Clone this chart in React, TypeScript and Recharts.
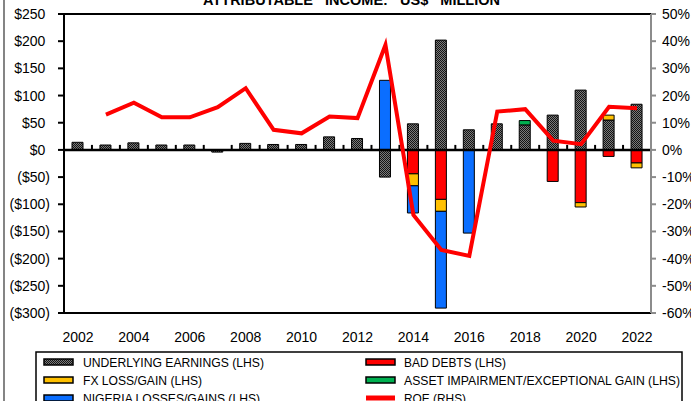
import React from 'react';
import { ComposedChart, Bar, Line, XAxis, YAxis, ReferenceLine } from 'recharts';

const years = ['2002','2003','2004','2005','2006','2007','2008','2009','2010','2011','2012','2013','2014','2015','2016','2017','2018','2019','2020','2021','2022'];
const xTickYears = ['2002','2004','2006','2008','2010','2012','2014','2016','2018','2020','2022'];
const underlying = [14, 9, 13, 9, 9, -4, 12, 10, 10, 24, 21, -50, 48, 202, 37, 48, 46, 64, 110, 55, 84];
const badDebts = [null, null, null, null, null, null, null, null, null, null, null, null, -44, -91, null, null, null, -58, -97, -12, -24];
const fxLossGain = [null, null, null, null, null, null, null, null, null, null, null, null, -22, -22, null, null, null, null, -8, 9, -9];
const assetImpairment = [null, null, null, null, null, null, null, null, null, null, null, null, null, null, null, null, 8, null, null, null, null];
const nigeria = [null, null, null, null, null, null, null, null, null, null, null, 128, -50, -178, -153, null, null, null, null, null, null];
const roe = [null, 13, 17.4, 12, 12, 15.7, 22.7, 7.4, 6.1, 12.3, 11.7, 38.6, -23.9, -36.8, -39, 14.1, 15, 3.4, 2.1, 15.9, 15.3];
const leftTicks = [250, 200, 150, 100, 50, 0, -50, -100, -150, -200, -250, -300];
const rightTicks = [50, 40, 30, 20, 10, 0, -10, -20, -30, -40, -50, -60];

const data = years.map((y, i) => ({
  year: y,
  underlying: underlying[i],
  badDebts: badDebts[i],
  fx: fxLossGain[i],
  asset: assetImpairment[i],
  nigeria: nigeria[i],
  roe: roe[i],
}));

const FONT = 'Liberation Sans, Arial, sans-serif';

const LeftTick = (props: any) => {
  const { x, y, payload } = props;
  const v = payload.value;
  const label = v < 0 ? `($${-v})` : `$${v}`;
  return (
    <text x={v < 0 ? x : x - 4.7} y={y} dy="0.355em" textAnchor="end" fontSize={14} fontFamily={FONT} fill="#000">
      {label}
    </text>
  );
};

const ZeroLine = (props: any) => {
  const { x1, x2, y1 } = props;
  const n = years.length;
  const step = (x2 - x1) / n;
  const ticks = [];
  for (let i = 1; i < n; i++) {
    const tx = x1 + i * step;
    ticks.push(<line key={i} x1={tx} x2={tx} y1={y1} y2={y1 - 5} stroke="#000" strokeWidth={2} />);
  }
  return (
    <g>
      <line x1={x1} x2={x2} y1={y1} y2={y1} stroke="#000" strokeWidth={2.5} />
      {ticks}
    </g>
  );
};

const legendItems = [
  { label: 'UNDERLYING EARNINGS (LHS)', fill: 'url(#hatchLeg)', col: 0, row: 0, w: 181 },
  { label: 'BAD DEBTS (LHS)', fill: '#FF0000', col: 1, row: 0, w: 102 },
  { label: 'FX LOSS/GAIN (LHS)', fill: '#FFC000', col: 0, row: 1, w: 119 },
  { label: 'ASSET IMPAIRMENT/EXCEPTIONAL GAIN (LHS)', fill: '#00B050', col: 1, row: 1, w: 276 },
  { label: 'NIGERIA LOSSES/GAINS (LHS)', fill: '#0A6EFF', col: 0, row: 2, w: 177 },
  { label: 'ROE (RHS)', fill: 'line', col: 1, row: 2, w: 62 },
];

export default function App() {
  return (
    <div style={{ position: 'absolute', left: 0, top: 0, width: 691, height: 401, background: '#fff', overflow: 'hidden' }}>
      <ComposedChart
        width={691}
        height={401}
        data={data}
        stackOffset="sign"
        barCategoryGap={0}
        margin={{ top: 14, right: 0, bottom: 48, left: 0 }}
      >
        <defs>
          <pattern id="hatch" width="2" height="2" patternUnits="userSpaceOnUse">
            <rect width="2" height="2" fill="#7a7a7a" />
            <rect width="1" height="1" fill="#141414" />
            <rect x="1" y="1" width="1" height="1" fill="#141414" />
          </pattern>
        </defs>
        <XAxis
          dataKey="year"
          ticks={xTickYears}
          interval={0}
          axisLine={false}
          tickLine={false}
          tickSize={0}
          tickMargin={19}
          height={40}
          tick={{ fontSize: 14, fill: '#000', fontFamily: FONT }}
        />
        <YAxis
          yAxisId="left"
          orientation="left"
          width={64}
          domain={[-300, 250]}
          ticks={leftTicks}
          interval={0}
          allowDataOverflow
          axisLine={{ stroke: '#000', strokeWidth: 2 }}
          tickLine={{ stroke: '#000', strokeWidth: 2 }}
          tickSize={6}
          tickMargin={8}
          tick={<LeftTick />}
        />
        <YAxis
          yAxisId="right"
          orientation="right"
          width={40}
          domain={[-60, 50]}
          ticks={rightTicks}
          interval={0}
          allowDataOverflow
          axisLine={{ stroke: '#8c8c8c', strokeWidth: 2 }}
          tickLine={{ stroke: '#8c8c8c', strokeWidth: 2 }}
          tickSize={5}
          tickMargin={6}
          tickFormatter={(v: number) => `${v}%`}
          tick={{ fontSize: 14, fill: '#000', fontFamily: FONT, textAnchor: 'start' }}
        />
        <ReferenceLine yAxisId="left" y={250} stroke="#000" strokeWidth={2} />
        <ReferenceLine yAxisId="left" y={-300} stroke="#000" strokeWidth={2} />
        <Bar yAxisId="left" dataKey="underlying" stackId="a" barSize={11} fill="url(#hatch)" stroke="#000" strokeWidth={1} isAnimationActive={false} />
        <Bar yAxisId="left" dataKey="badDebts" stackId="a" barSize={11} fill="#FF0000" stroke="#000" strokeWidth={1} isAnimationActive={false} />
        <Bar yAxisId="left" dataKey="fx" stackId="a" barSize={11} fill="#FFC000" stroke="#000" strokeWidth={1} isAnimationActive={false} />
        <Bar yAxisId="left" dataKey="asset" stackId="a" barSize={11} fill="#00B050" stroke="#000" strokeWidth={1} isAnimationActive={false} />
        <Bar yAxisId="left" dataKey="nigeria" stackId="a" barSize={11} fill="#0A6EFF" stroke="#000" strokeWidth={1} isAnimationActive={false} />
        <ReferenceLine yAxisId="left" y={0} shape={<ZeroLine />} />
        <Line yAxisId="right" type="linear" dataKey="roe" stroke="#FF0000" strokeWidth={4} dot={false} activeDot={false} connectNulls={false} isAnimationActive={false} />
      </ComposedChart>
      <svg width={691} height={401} style={{ position: 'absolute', left: 0, top: 0, pointerEvents: 'none' }}>
        <defs>
          <pattern id="hatchLeg" width="2" height="2" patternUnits="userSpaceOnUse">
            <rect width="2" height="2" fill="#7a7a7a" />
            <rect width="1" height="1" fill="#141414" />
            <rect x="1" y="1" width="1" height="1" fill="#141414" />
          </pattern>
        </defs>
        <text x={203} y={5} fontSize={14} fontWeight="bold" fontFamily={FONT} fill="#000" textLength={297} lengthAdjust="spacingAndGlyphs" style={{ whiteSpace: 'pre' }}>
          {'ATTRIBUTABLE   INCOME:   US$   MILLION'}
        </text>
        <line x1={4} x2={4} y1={0} y2={401} stroke="#333" strokeWidth={1.2} />
        <rect x={36} y={352} width={646} height={70} fill="none" stroke="#000" strokeWidth={1.5} />
        {legendItems.map((it) => {
          const sx = it.col === 0 ? 44 : 366;
          const tx = it.col === 0 ? 83 : 404;
          const cy = 362 + it.row * 18;
          return (
            <g key={it.label}>
              {it.fill === 'line' ? (
                <line x1={sx} x2={sx + 29} y1={cy} y2={cy} stroke="#FF0000" strokeWidth={5} />
              ) : (
                <rect x={sx} y={cy - 3} width={29} height={6} fill={it.fill} stroke="#000" strokeWidth={1.5} />
              )}
              <text x={tx} y={cy + 5} fontSize={13.5} fontFamily={FONT} fill="#000" textLength={it.w} lengthAdjust="spacingAndGlyphs">
                {it.label}
              </text>
            </g>
          );
        })}
      </svg>
    </div>
  );
}
